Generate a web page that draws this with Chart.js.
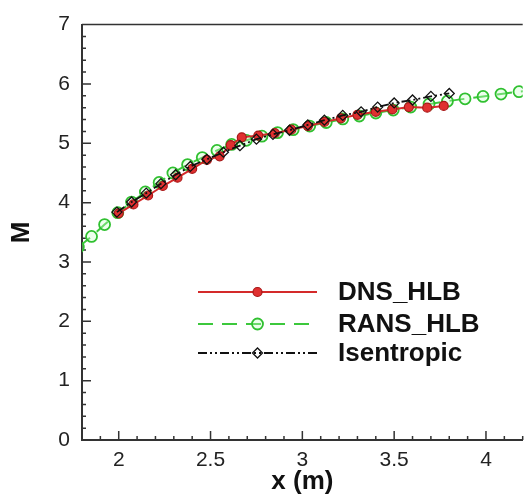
<!DOCTYPE html>
<html>
<head>
<meta charset="utf-8">
<script src="https://cdn.jsdelivr.net/npm/chart.js@4.4.1/dist/chart.umd.min.js"></script>
<style>
    body { margin: 0; background: #fff; }
    canvas { display: block; }
</style>
</head>
<body>
<canvas id="machChart" width="530" height="497"></canvas>
<script>
// tick values
const xTicks = [2, 2.5, 3, 3.5, 4];
const yTicks = [0, 1, 2, 3, 4, 5, 6, 7];

// DNS_HLB
const dnsX = [2.0, 2.08, 2.16, 2.24, 2.32, 2.40, 2.48, 2.55, 2.61, 2.67, 2.76, 2.85, 2.94, 3.03, 3.12, 3.21, 3.30, 3.40, 3.49, 3.58, 3.68, 3.77];
const dnsM = [3.82, 3.97, 4.12, 4.28, 4.42, 4.57, 4.72, 4.78, 4.97, 5.10, 5.13, 5.17, 5.23, 5.29, 5.36, 5.42, 5.48, 5.53, 5.57, 5.61, 5.60, 5.63];

// RANS_HLB
const ransX = [1.78, 1.852, 1.923, 1.995, 2.07, 2.145, 2.22, 2.295, 2.375, 2.455, 2.535, 2.615, 2.695, 2.78, 2.865, 2.95, 3.04, 3.13, 3.22, 3.31, 3.40, 3.495, 3.59, 3.69, 3.79, 3.886, 3.984, 4.082, 4.18, 4.28];
const ransM = [3.25, 3.43, 3.63, 3.83, 4.01, 4.18, 4.34, 4.50, 4.64, 4.76, 4.88, 4.98, 5.05, 5.12, 5.18, 5.23, 5.29, 5.35, 5.41, 5.46, 5.51, 5.56, 5.61, 5.66, 5.71, 5.75, 5.79, 5.83, 5.87, 5.90];

// Isentropic
const isenX = [1.99, 2.07, 2.15, 2.23, 2.31, 2.39, 2.48, 2.57, 2.66, 2.75, 2.84, 2.93, 3.03, 3.12, 3.22, 3.32, 3.41, 3.50, 3.60, 3.70, 3.80];
const isenM = [3.84, 4.01, 4.16, 4.32, 4.47, 4.61, 4.73, 4.85, 4.96, 5.07, 5.15, 5.22, 5.31, 5.39, 5.47, 5.53, 5.61, 5.68, 5.73, 5.79, 5.84];

function toPoints(xs, ys) {
    return xs.map((x, i) => ({ x: x, y: ys[i] }));
}

const fontName = "'Liberation Sans', Arial, sans-serif";

function drawMarker(ctx, ds, x, y) {
    ctx.save();
    ctx.fillStyle = ds.pointBackgroundColor;
    ctx.strokeStyle = ds.pointBorderColor;
    ctx.lineWidth = ds.pointBorderWidth;
    Chart.helpers.drawPoint(ctx, {
        pointStyle: ds.pointStyle,
        radius: ds.pointRadius,
        borderWidth: ds.pointBorderWidth,
        rotation: 0
    }, x, y);
    ctx.restore();
}

// inward ticks, top border and the legend inside the plot
const frameAndLegend = {
    id: 'frameAndLegend',
    beforeDatasetsDraw(chart) {
        const ctx = chart.ctx;
        const area = chart.chartArea;
        const xs = chart.scales.x;
        const ys = chart.scales.y;
        ctx.save();
        ctx.strokeStyle = '#333';
        ctx.lineWidth = 1.5;
        ctx.beginPath();
        // top border
        ctx.moveTo(area.left, area.top);
        ctx.lineTo(area.right, area.top);
        // x ticks every 0.1
        for (let i = 18; i <= 42; i++) {
            let px = xs.getPixelForValue(i / 10);
            let len = (i % 5 === 0) ? 9 : 4;
            ctx.moveTo(px, area.bottom);
            ctx.lineTo(px, area.bottom - len);
        }
        // y ticks every 0.2
        for (let i = 0; i <= 35; i++) {
            let py = ys.getPixelForValue(i / 5);
            let len = (i % 5 === 0) ? 9 : 4;
            ctx.moveTo(area.left, py);
            ctx.lineTo(area.left + len, py);
        }
        ctx.stroke();
        ctx.restore();
    },
    afterDraw(chart) {
        const ctx = chart.ctx;
        const rowY = [292, 324, 353];
        const x0 = 198, x1 = 317, tx = 338;
        ctx.save();
        chart.data.datasets.forEach((ds, k) => {
            const y = rowY[k];
            ctx.strokeStyle = ds.borderColor;
            ctx.lineWidth = ds.borderWidth;
            ctx.setLineDash(ds.borderDash || []);
            ctx.beginPath();
            ctx.moveTo(x0, y);
            ctx.lineTo(x1, y);
            ctx.stroke();
            ctx.setLineDash([]);
            drawMarker(ctx, ds, (x0 + x1) / 2, y);
            ctx.fillStyle = '#111';
            ctx.font = 'bold 26px ' + fontName;
            ctx.textBaseline = 'middle';
            ctx.textAlign = 'left';
            ctx.fillText(ds.label, tx, y + 1);
        });
        ctx.restore();
    }
};

window.addEventListener("load", () => {
    const chartDOM = document.getElementById("machChart").getContext("2d");

    const data = {
        datasets: [{
            label: 'DNS_HLB',
            data: toPoints(dnsX, dnsM),
            borderColor: '#d42a2a',
            borderWidth: 2,
            pointStyle: 'circle',
            pointRadius: 4.5,
            pointBorderWidth: 1.2,
            pointBackgroundColor: '#e03030',
            pointBorderColor: '#a81818',
            order: 1
        }, {
            label: 'RANS_HLB',
            data: toPoints(ransX, ransM),
            borderColor: '#3cc83c',
            borderWidth: 2,
            borderDash: [15, 9],
            pointStyle: 'circle',
            pointRadius: 5.5,
            pointBorderWidth: 1.8,
            pointBackgroundColor: 'rgba(200,255,200,0.35)',
            pointBorderColor: '#30c030',
            order: 2
        }, {
            label: 'Isentropic',
            data: toPoints(isenX, isenM),
            borderColor: '#111',
            borderWidth: 1.8,
            borderDash: [9, 3, 2, 3, 2, 3],
            pointStyle: 'rectRot',
            pointRadius: 5,
            pointBorderWidth: 1.3,
            pointBackgroundColor: 'rgba(255,255,255,0)',
            pointBorderColor: '#111',
            order: 0
        }]
    };

    const config = {
        type: 'line',
        data: data,
        options: {
            responsive: false,
            animation: false,
            layout: {
                padding: { top: 16, right: 0, left: 0, bottom: 0 }
            },
            scales: {
                x: {
                    type: 'linear',
                    min: 1.8,
                    max: 4.2,
                    afterBuildTicks: (scale) => {
                        scale.ticks = xTicks.map(v => ({ value: v }));
                    },
                    afterFit: (scale) => { scale.height = 57; },
                    grid: { display: true, drawOnChartArea: false, drawTicks: false },
                    border: { display: true, color: '#333', width: 2 },
                    ticks: {
                        padding: 8,
                        color: '#222',
                        font: { family: fontName, size: 21 },
                        maxRotation: 0,
                        callback: (value) => String(value)
                    },
                    title: {
                        display: true,
                        text: 'x (m)',
                        color: '#111',
                        font: { family: fontName, size: 26, weight: 'bold' },
                        padding: { top: 0, bottom: 0 }
                    }
                },
                y: {
                    type: 'linear',
                    min: 0,
                    max: 7,
                    afterBuildTicks: (scale) => {
                        scale.ticks = yTicks.map(v => ({ value: v }));
                    },
                    afterFit: (scale) => { scale.width = 82; },
                    grid: { display: true, drawOnChartArea: false, drawTicks: false },
                    border: { display: true, color: '#333', width: 2 },
                    ticks: {
                        padding: 12,
                        color: '#222',
                        font: { family: fontName, size: 21 },
                        callback: (value) => String(value)
                    },
                    title: {
                        display: true,
                        text: 'M',
                        color: '#111',
                        font: { family: fontName, size: 26, weight: 'bold' },
                        padding: { top: 6, bottom: 0 }
                    }
                }
            },
            plugins: {
                legend: { display: false },
                tooltip: { enabled: false }
            }
        },
        plugins: [frameAndLegend]
    };

    new Chart(chartDOM, config);
});
</script>
</body>
</html>
